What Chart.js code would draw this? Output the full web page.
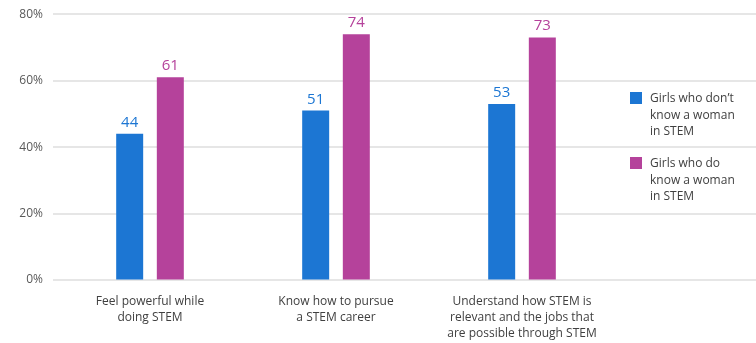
<!DOCTYPE html>
<html>
<head>
<meta charset="utf-8">
<script src="https://cdn.jsdelivr.net/npm/chart.js@4"></script>
<style>
  body { margin: 0; background: #fff; font-family: "Open Sans", sans-serif; }
  #wrap { position: relative; width: 756px; height: 343px; }
  .legend-item { position: absolute; left: 630px; font-size: 12px; line-height: 16.5px; color: #404040; }
  .legend-item .swatch { position: absolute; left: 0; top: 0; width: 12px; height: 12px; }
  .legend-item .text { position: absolute; left: 20px; top: -2px; white-space: nowrap; }
</style>
</head>
<body>
<div id="wrap">
  <canvas id="stemChart"></canvas>
  <div id="legend"></div>
</div>
<script>
const categories = [
    ['Feel powerful while', 'doing STEM'],
    ['Know how to pursue', 'a STEM career'],
    ['Understand how STEM is', 'relevant and the jobs that', 'are possible through STEM']
];
const seriesNames = [
    ['Girls who don\u2019t', 'know a woman', 'in STEM'],
    ['Girls who do', 'know a woman', 'in STEM']
];
const dontKnowValues = [44, 51, 53];
const doKnowValues = [61, 74, 73];
const yTicks = [0, 20, 40, 60, 80];
const seriesColors = ['#1c76d3', '#b5429b'];

document.addEventListener('DOMContentLoaded', function() {
    // Value labels above each bar
    const valueLabels = {
        id: 'valueLabels',
        afterDatasetsDraw(chart) {
            const ctx = chart.ctx;
            ctx.save();
            ctx.font = '15px "Open Sans", sans-serif';
            ctx.textAlign = 'center';
            ctx.textBaseline = 'alphabetic';
            chart.data.datasets.forEach((ds, i) => {
                ctx.fillStyle = ds.backgroundColor;
                chart.getDatasetMeta(i).data.forEach((bar, j) => {
                    ctx.fillText(String(ds.data[j]), bar.x, bar.y - 7);
                });
            });
            ctx.restore();
        }
    };

    // Horizontal gridlines: start a little left of the plot and run under the legend
    const gridLines = {
        id: 'gridLines',
        beforeDatasetsDraw(chart) {
            const ctx = chart.ctx;
            const y = chart.scales.y;
            ctx.save();
            ctx.strokeStyle = '#dedede';
            ctx.lineWidth = 1.5;
            y.ticks.forEach(t => {
                const py = Math.round(y.getPixelForValue(t.value));
                ctx.beginPath();
                ctx.moveTo(chart.chartArea.left - 4, py);
                ctx.lineTo(chart.width, py);
                ctx.stroke();
            });
            ctx.restore();
        }
    };

    const ctx = document.getElementById('stemChart').getContext('2d');
    new Chart(ctx, {
        type: 'bar',
        data: {
            labels: categories,
            datasets: [{
                label: seriesNames[0].join(' '),
                data: dontKnowValues,
                backgroundColor: seriesColors[0]
            }, {
                label: seriesNames[1].join(' '),
                data: doKnowValues,
                backgroundColor: seriesColors[1]
            }]
        },
        options: {
            responsive: true,
            maintainAspectRatio: false,
            animation: false,
            categoryPercentage: 0.437,
            barPercentage: 0.664,
            layout: { padding: { top: 0, right: 141, left: 0, bottom: 0 } },
            plugins: {
                legend: { display: false },
                tooltip: { enabled: false }
            },
            scales: {
                x: {
                    grid: { display: false },
                    border: { display: false },
                    ticks: {
                        color: '#404040',
                        padding: 6,
                        maxRotation: 0,
                        autoSkip: false,
                        font: { family: '"Open Sans", sans-serif', size: 12, lineHeight: 1.33 }
                    },
                    afterFit(scale) { scale.height = 63; }
                },
                y: {
                    min: 0,
                    max: 80,
                    afterBuildTicks(scale) {
                        scale.ticks = yTicks.map(v => ({ value: v }));
                    },
                    // lines themselves come from the gridLines plugin
                    grid: { color: 'rgba(0,0,0,0)', drawOnChartArea: false, tickLength: 7 },
                    border: { display: false },
                    ticks: {
                        color: '#595959',
                        padding: 7,
                        font: { family: '"Open Sans", sans-serif', size: 12 },
                        callback: v => v + '%'
                    },
                    afterFit(scale) { scale.width = 57; }
                }
            }
        },
        plugins: [gridLines, valueLabels]
    });

    // Legend on the right, three lines per entry
    const legend = document.getElementById('legend');
    const legendTops = [92, 157];
    seriesNames.forEach((lines, i) => {
        const item = document.createElement('div');
        item.className = 'legend-item';
        item.style.top = legendTops[i] + 'px';
        const sw = document.createElement('div');
        sw.className = 'swatch';
        sw.style.background = seriesColors[i];
        const tx = document.createElement('div');
        tx.className = 'text';
        tx.innerHTML = lines.join('<br>');
        item.appendChild(sw);
        item.appendChild(tx);
        legend.appendChild(item);
    });
});
</script>
</body>
</html>
